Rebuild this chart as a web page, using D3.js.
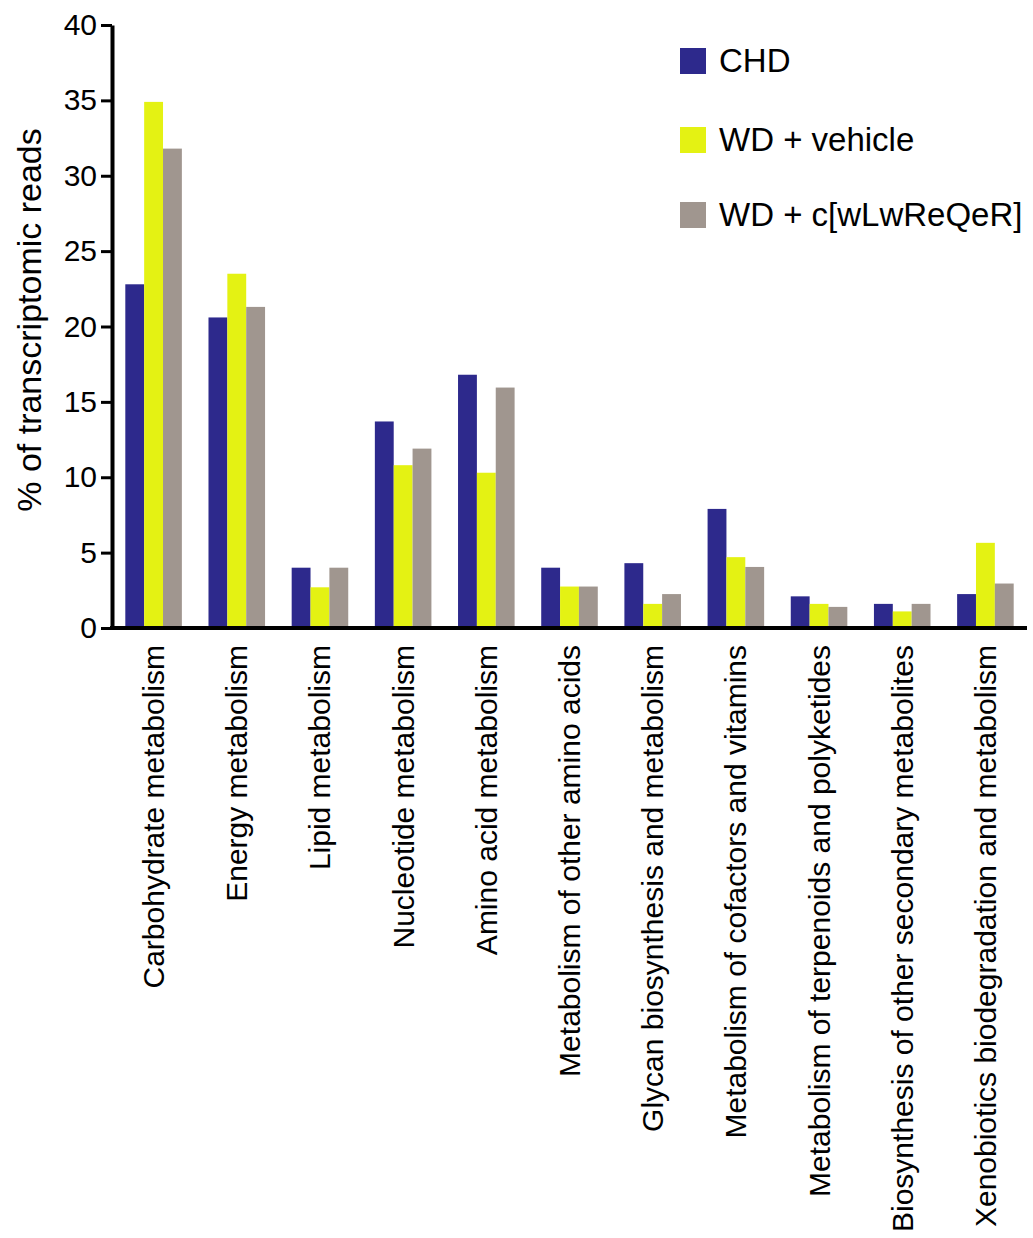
<!DOCTYPE html>
<html>
<head>
<meta charset="utf-8">
<script src="https://cdn.jsdelivr.net/npm/d3@7"></script>
<style>
  html, body { margin: 0; padding: 0; background: #fff; }
  svg { display: block; font-family: "Liberation Sans", Arial, sans-serif; }
</style>
</head>
<body>
<svg id="chart" width="1033" height="1238"></svg>
<script>
// Functional categories of KEGG metabolism
const categories = [
  "Carbohydrate metabolism",
  "Energy metabolism",
  "Lipid metabolism",
  "Nucleotide metabolism",
  "Amino acid metabolism",
  "Metabolism of other amino acids",
  "Glycan biosynthesis and metabolism",
  "Metabolism of cofactors and vitamins",
  "Metabolism of terpenoids and polyketides",
  "Biosynthesis of other secondary metabolites",
  "Xenobiotics biodegradation and metabolism"
];

const seriesNames = ["CHD", "WD + vehicle", "WD + c[wLwReQeR]"];

// % of transcriptomic reads per group
const chd        = [22.8, 20.6, 4.0, 13.7, 16.8, 4.0, 4.3, 7.9, 2.1, 1.6, 2.25];
const wdVehicle  = [34.9, 23.5, 2.7, 10.8, 10.3, 2.75, 1.6, 4.7, 1.6, 1.1, 5.65];
const wdPeptide  = [31.8, 21.3, 4.0, 11.9, 15.95, 2.75, 2.25, 4.05, 1.4, 1.6, 2.95];

const yTicks = [0, 5, 10, 15, 20, 25, 30, 35, 40];
const colors = ["#2d298c", "#e4f213", "#a0968f"];

const seriesValues = [chd, wdVehicle, wdPeptide];
const rows = categories.map((c, i) => ({
  category: c,
  values: seriesNames.map((s, j) => ({ series: s, value: seriesValues[j][i] }))
}));

const svg = d3.select("#chart");

const x0 = d3.scaleBand()
  .domain(categories)
  .range([112, 1027])
  .paddingInner(0.32)
  .paddingOuter(0.16);

const x1 = d3.scaleBand()
  .domain(seriesNames)
  .range([0, x0.bandwidth()])
  .padding(0);

const y = d3.scaleLinear().domain([0, 40]).range([628, 25]);

const color = d3.scaleOrdinal().domain(seriesNames).range(colors);

// Bars
const groups = svg.append("g")
  .selectAll("g")
  .data(rows)
  .join("g")
  .attr("transform", d => `translate(${x0(d.category)},0)`);

groups.selectAll("rect")
  .data(d => d.values)
  .join("rect")
  .attr("x", d => x1(d.series))
  .attr("width", x1.bandwidth())
  .attr("y", d => y(d.value))
  .attr("height", d => y(0) - y(d.value))
  .attr("fill", d => color(d.series));

// Y axis
const yAxis = svg.append("g")
  .attr("transform", "translate(112,0)")
  .call(d3.axisLeft(y).tickValues(yTicks).tickSize(11).tickPadding(4).tickSizeOuter(0));
yAxis.select(".domain").attr("stroke", "#000").attr("stroke-width", 4);
yAxis.selectAll(".tick line").attr("stroke", "#000").attr("stroke-width", 3);
yAxis.selectAll(".tick text")
  .attr("fill", "#000")
  .attr("font-size", 30)
  .attr("font-family", "Liberation Sans, Arial, sans-serif");

// X axis line
const xAxis = svg.append("g")
  .attr("transform", "translate(0,628)")
  .call(d3.axisBottom(x0).tickSize(0).tickSizeOuter(0).tickPadding(0));
xAxis.select(".domain")
  .attr("d", `M110,0H1027`)
  .attr("stroke", "#000")
  .attr("stroke-width", 4);
xAxis.selectAll(".tick text")
  .attr("fill", "#000")
  .attr("font-size", 30)
  .attr("font-family", "Liberation Sans, Arial, sans-serif")
  .attr("text-anchor", "end")
  .attr("transform", "translate(0,17) rotate(-90)")
  .attr("x", 0)
  .attr("y", 0)
  .attr("dy", "0.35em");

// Y axis title
svg.append("text")
  .attr("transform", "translate(29,320) rotate(-90)")
  .attr("text-anchor", "middle")
  .attr("dy", "0.35em")
  .attr("font-size", 34)
  .attr("fill", "#000")
  .text("% of transcriptomic reads");

// Legend
const legend = svg.append("g")
  .selectAll("g")
  .data(seriesNames)
  .join("g")
  .attr("transform", (d, i) => `translate(680,${[48, 127, 202][i]})`);

legend.append("rect")
  .attr("width", 26)
  .attr("height", 26)
  .attr("fill", d => color(d));

legend.append("text")
  .attr("x", 39)
  .attr("y", 24)
  .attr("font-size", 33)
  .attr("fill", "#000")
  .text(d => d);
</script>
</body>
</html>
